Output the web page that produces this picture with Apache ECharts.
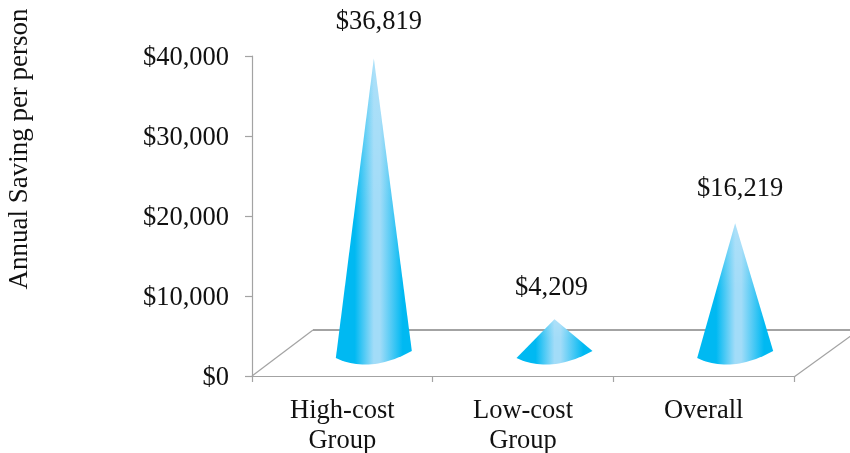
<!DOCTYPE html>
<html>
<head>
<meta charset="utf-8">
<style>html,body{margin:0;padding:0;background:#fff}#c{width:850px;height:453px}</style>
<script src="https://cdn.jsdelivr.net/npm/echarts@6/dist/echarts.min.js"></script>
</head>
<body>
<div id="c"></div>
<script>
// Annual saving per person, by cost group
const categories = ['High-cost\nGroup', 'Low-cost\nGroup', 'Overall'];
const savings = [36819, 4209, 16219];
const axisTicks = [0, 10000, 20000, 30000, 40000];

const serif = '"Liberation Serif","Times New Roman",serif';
const grey = '#a3a3a3';
const depthX = 61, depthY = -46;       // floor depth in the faux 3D view
const labelNudge = [5, -3, 5];         // horizontal shift of each value label
const labelRise = [36, 31, 34];        // height of each value label above its tip

const money = v => '$' + v.toLocaleString('en-US');

const chart = echarts.init(document.getElementById('c'), null, {renderer: 'canvas'});

// Floor of the faux 3D plot: back edge and the two receding side edges
function renderFloor(params, api) {
  const cs = params.coordSys;
  const bottom = cs.y + cs.height, left = cs.x, right = cs.x + cs.width;
  const line = (x1, y1, x2, y2, w) => ({
    type: 'line',
    shape: {x1, y1, x2, y2},
    style: {stroke: grey, lineWidth: w}
  });
  return {
    type: 'group',
    children: [
      line(left, bottom, left + depthX, bottom + depthY, 1.2),
      line(left + depthX, bottom + depthY, right + depthX, bottom + depthY, 2),
      line(right, bottom + 1, right + depthX, bottom + depthY + 3, 1.2)
    ]
  };
}

// Cone standing on the middle of the floor, tip at the value height
function renderCone(params, api) {
  const i = params.dataIndex;
  const value = api.value(1);
  const base = api.coord([i, 0]);
  const top = api.coord([i, value]);
  const cx = base[0] + depthX / 2 - 4;
  const by = base[1] + depthY / 2;
  const tipX = base[0] + depthX / 2 + 1;
  const tipY = top[1] + depthY / 2;
  const lx = cx - 33, ly = by + 5;
  const rx = cx + 43, ry = by - 2;
  const ctrlX = cx + 1, ctrlY = by + 21;

  // Outline: tip, then the rim of the base sampled as a curve
  const outline = [[tipX, tipY]];
  for (let k = 0; k <= 24; k++) {
    const t = k / 24, u = 1 - t;
    outline.push([
      u * u * lx + 2 * u * t * ctrlX + t * t * rx,
      u * u * ly + 2 * u * t * ctrlY + t * t * ry
    ]);
  }

  const sideFill = new echarts.graphic.LinearGradient(lx, 0, rx, 0, [
    {offset: 0, color: '#00b9f2'},
    {offset: 0.25, color: '#00b9f2'},
    {offset: 0.5, color: '#a2dcf8'},
    {offset: 0.58, color: '#a2dcf8'},
    {offset: 0.88, color: '#00b9f2'},
    {offset: 1, color: '#00b9f2'}
  ], true);
  const fade = new echarts.graphic.LinearGradient(0, tipY, 0, ly, [
    {offset: 0, color: 'rgba(255,255,255,0.12)'},
    {offset: 0.5, color: 'rgba(255,255,255,0)'},
    {offset: 1, color: 'rgba(255,255,255,0)'}
  ], true);
  return {
    type: 'group',
    children: [
      {type: 'polygon', shape: {points: outline}, style: {fill: sideFill}},
      {type: 'polygon', shape: {points: outline}, style: {fill: fade}},
      {type: 'text', style: {text: money(value), x: tipX + labelNudge[i], y: tipY - labelRise[i], align: 'center', verticalAlign: 'middle', font: '26.5px ' + serif, fill: '#111'}}
    ]
  };
}

chart.setOption({
  animation: false,
  backgroundColor: '#fff',
  grid: {left: 252, top: 56, width: 542, height: 320, outerBoundsMode: 'none'},
  xAxis: {
    type: 'category',
    data: categories,
    axisLine: {lineStyle: {color: grey, width: 1.2}},
    axisTick: {show: true, alignWithLabel: false, length: 6, lineStyle: {color: grey, width: 1.2}},
    axisLabel: {color: '#111', fontFamily: serif, fontSize: 26.5, lineHeight: 30, margin: 20, interval: 0}
  },
  yAxis: {
    type: 'value',
    min: axisTicks[0],
    max: axisTicks[axisTicks.length - 1],
    interval: axisTicks[1] - axisTicks[0],
    name: 'Annual Saving per person',
    nameLocation: 'middle',
    nameRotate: 90,
    nameGap: 219,
    nameTextStyle: {color: '#111', fontFamily: serif, fontSize: 27, padding: [0, 0, 0, 134]},
    splitLine: {show: false},
    axisLine: {show: true, lineStyle: {color: grey, width: 1.2}},
    axisTick: {show: true, length: 7, lineStyle: {color: grey, width: 1.2}},
    axisLabel: {
      margin: 23,
      formatter: v => '{t|' + money(v) + '}',
      rich: {t: {color: '#111', fontFamily: serif, fontSize: 26.5, padding: [5, 0, 0, 0]}}
    }
  },
  series: [
    {type: 'custom', renderItem: renderFloor, data: [[0, 0]], z: 1, silent: true},
    {type: 'custom', renderItem: renderCone, data: savings.map((v, i) => [i, v]), z: 2, encode: {x: 0, y: 1}}
  ]
});
</script>
</body>
</html>
